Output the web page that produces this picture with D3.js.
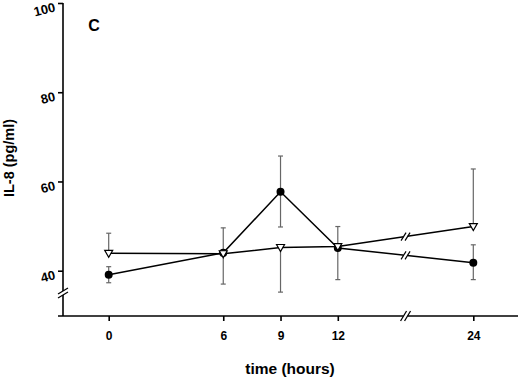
<!DOCTYPE html>
<html>
<head>
<meta charset="utf-8">
<script src="https://cdn.jsdelivr.net/npm/d3@7"></script>
<style>
  body { margin: 0; background: #fff; }
  text { font-family: "Liberation Sans", Arial, sans-serif; font-weight: bold; }
</style>
</head>
<body>
<div id="chart"></div>
<script>
// data
const hours = [0, 6, 9, 12, 24];
const filledMean = [39.1, 44.0, 57.7, 45.1, 41.8];
const filledUpper = [40.9, 49.6, 65.7, 49.9, 45.8];
const filledLower = [37.3, 37.0, 49.8, 38.0, 38.0];
const openMean = [43.9, 43.8, 45.2, 45.4, 49.9];
const openUpper = [48.4, null, null, null, 62.8];
const openLower = [null, null, 35.2, null, null];
const yTicks = [40, 60, 80, 100];

const W = 520, H = 378;
const svg = d3.select("#chart").append("svg")
  .attr("width", W).attr("height", H);

// x has a break between 12 and 24
const x = d3.scaleLinear().domain([0, 12, 24]).range([108.7, 337.8, 473.3]);
const y = d3.scaleLinear().domain([40, 100]).range([270.7, 3]);
const axisX = 63, axisY = 316;

// y axis
svg.append("line")
  .attr("x1", axisX).attr("x2", axisX).attr("y1", y(100)).attr("y2", axisY)
  .attr("stroke", "#000").attr("stroke-width", 1.6);
const yAx = svg.append("g")
  .attr("transform", `translate(${axisX},0)`)
  .call(d3.axisLeft(y).tickValues(yTicks).tickSize(5).tickSizeOuter(0));
yAx.select(".domain").remove();
yAx.selectAll("line").attr("stroke", "#000").attr("stroke-width", 1.6);
yAx.selectAll("text")
  .attr("font-size", 13).attr("font-weight", "bold").attr("font-family", "Liberation Sans, Arial, sans-serif")
  .attr("transform", "translate(0,4) rotate(-14,-9,0)");

// x axis
svg.append("line")
  .attr("x1", 58).attr("x2", 518).attr("y1", axisY).attr("y2", axisY)
  .attr("stroke", "#000").attr("stroke-width", 1.6);
const xAx = svg.append("g")
  .attr("transform", `translate(0,${axisY})`)
  .call(d3.axisBottom(x).tickValues(hours).tickSize(5).tickSizeOuter(0).tickPadding(10));
xAx.select(".domain").remove();
xAx.selectAll("line").attr("stroke", "#000").attr("stroke-width", 1.6);
xAx.selectAll("text")
  .attr("font-size", 12).attr("font-weight", "bold").attr("font-family", "Liberation Sans, Arial, sans-serif");

// axis break marks
function breakMark(cx, cy, vertical) {
  const g = svg.append("g").attr("transform", `translate(${cx},${cy})`);
  if (vertical) {
    g.append("rect").attr("x", -6).attr("y", -2).attr("width", 12).attr("height", 4).attr("fill", "#fff");
    [-2, 2].forEach(o => g.append("line")
      .attr("x1", -5).attr("x2", 5).attr("y1", o + 3).attr("y2", o - 3)
      .attr("stroke", "#000").attr("stroke-width", 1.3));
  } else {
    g.append("rect").attr("x", -2).attr("y", -6).attr("width", 4).attr("height", 12).attr("fill", "#fff");
    [-2, 2].forEach(o => g.append("line")
      .attr("x1", o - 3).attr("x2", o + 3).attr("y1", 5).attr("y2", -5)
      .attr("stroke", "#000").attr("stroke-width", 1.3));
  }
}
breakMark(axisX, 293, true);
breakMark(x(18), axisY, false);

// error bars
function errBars(means, tops, bots) {
  hours.forEach((h, i) => {
    [tops[i], bots[i]].forEach(v => {
      if (v == null) return;
      svg.append("line")
        .attr("x1", x(h)).attr("x2", x(h)).attr("y1", y(means[i])).attr("y2", y(v))
        .attr("stroke", "#666").attr("stroke-width", 1.2);
      svg.append("line")
        .attr("x1", x(h) - 2.5).attr("x2", x(h) + 2.5).attr("y1", y(v)).attr("y2", y(v))
        .attr("stroke", "#666").attr("stroke-width", 1.2);
    });
  });
}
errBars(filledMean, filledUpper, filledLower);
errBars(openMean, openUpper, openLower);

// lines
const line = d3.line().x((d, i) => x(hours[i])).y(d => y(d));
[filledMean, openMean].forEach(s => {
  svg.append("path").datum(s).attr("d", line)
    .attr("fill", "none").attr("stroke", "#000").attr("stroke-width", 1.5);
  // break marks on the 12-24 segment
  const bx = x(18);
  const by = y(s[3] + (s[4] - s[3]) / 2);
  const g = svg.append("g").attr("transform", `translate(${bx},${by})`);
  g.append("rect").attr("x", -2).attr("y", -5).attr("width", 4).attr("height", 10).attr("fill", "#fff");
  [-2, 2].forEach(o => g.append("line")
    .attr("x1", o - 2.5).attr("x2", o + 2.5).attr("y1", 4).attr("y2", -4)
    .attr("stroke", "#000").attr("stroke-width", 1.2));
});

// markers
svg.selectAll(".dot").data(filledMean).enter().append("circle")
  .attr("cx", (d, i) => x(hours[i])).attr("cy", d => y(d)).attr("r", 4)
  .attr("fill", "#000");
svg.selectAll(".tri").data(openMean).enter().append("path")
  .attr("transform", (d, i) => `translate(${x(hours[i])},${y(d)})`)
  .attr("d", "M-4,-3L4,-3L0,4Z")
  .attr("fill", "#fff").attr("stroke", "#000").attr("stroke-width", 1.2);

// labels
svg.append("text").attr("x", 94).attr("y", 31).attr("text-anchor", "middle")
  .attr("font-size", 16).text("C");
svg.append("text").attr("x", 290).attr("y", 374).attr("text-anchor", "middle")
  .attr("font-size", 15.5).text("time (hours)");
svg.append("text").attr("transform", "translate(14,158) rotate(-90)")
  .attr("text-anchor", "middle").attr("font-size", 14.5).text("IL-8 (pg/ml)");
</script>
</body>
</html>
